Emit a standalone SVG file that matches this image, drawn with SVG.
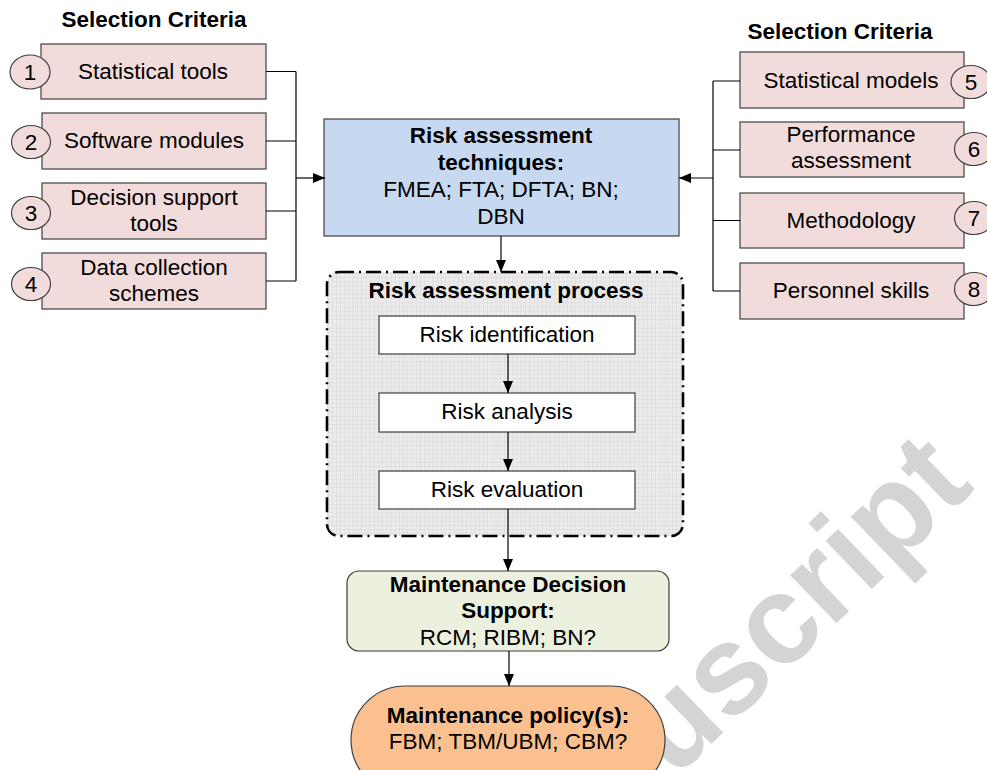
<svg xmlns="http://www.w3.org/2000/svg" width="987" height="770" viewBox="0 0 987 770">
<defs>
<style>
text{font-family:"Liberation Sans",Arial,sans-serif;font-size:22.5px;fill:#000;text-anchor:middle}
.b{font-weight:bold}
.crit{fill:#f2dcdb;stroke:#3f3f3f;stroke-width:1.2}
.num{fill:#f2dcdb;stroke:#3f3f3f;stroke-width:1.2}
.wbox{fill:#fff;stroke:#3f3f3f;stroke-width:1.2}
.ln{fill:none;stroke:#000;stroke-width:1.2}
.arr{fill:none;stroke:#000;stroke-width:1.2;marker-end:url(#ah)}
.wm{font-family:"Liberation Sans",Arial,sans-serif;font-weight:bold;font-size:126px;fill:#d4d4d4;text-anchor:start}
</style>
<marker id="ah" viewBox="0 0 12 10" refX="12" refY="5" markerWidth="12" markerHeight="10" markerUnits="userSpaceOnUse" orient="auto">
<path d="M0,0 L12,5 L0,10 Z" fill="#000"/>
</marker>
<pattern id="grid" width="4.2" height="4.2" patternUnits="userSpaceOnUse">
<rect width="4.2" height="4.2" fill="#ececec"/>
<path d="M0,0.3 H4.2 M0.3,0 V4.2" stroke="#d6d6d6" stroke-width="0.6"/>
</pattern>
</defs>
<rect width="987" height="770" fill="#fff"/>

<text class="wm" transform="translate(674,780) rotate(-44)">uscript</text>

<text class="b" x="154" y="27">Selection Criteria</text>
<text class="b" x="840" y="39">Selection Criteria</text>

<g id="c1"><rect class="crit" x="41" y="44" width="225" height="55"/><ellipse class="num" cx="30" cy="72" rx="20" ry="17"/><text x="30" y="80">1</text><text x="153" y="79">Statistical tools</text></g>
<g id="c2"><rect class="crit" x="42" y="113" width="224" height="56"/><ellipse class="num" cx="31" cy="142" rx="19.5" ry="16.5"/><text x="31" y="150">2</text><text x="154" y="148">Software modules</text></g>
<g id="c3"><rect class="crit" x="42" y="183" width="224" height="56"/><ellipse class="num" cx="31" cy="213" rx="19.5" ry="16.5"/><text x="31" y="221">3</text><text x="154" y="205">Decision support</text><text x="154" y="231">tools</text></g>
<g id="c4"><rect class="crit" x="42" y="253" width="224" height="56"/><ellipse class="num" cx="31" cy="284" rx="19.5" ry="16.5"/><text x="31" y="292">4</text><text x="154" y="275">Data collection</text><text x="154" y="301">schemes</text></g>

<g id="c5"><rect class="crit" x="740" y="52" width="224" height="56"/><ellipse class="num" cx="971" cy="82" rx="20" ry="16.5"/><text x="971" y="90">5</text><text x="851" y="88">Statistical models</text></g>
<g id="c6"><rect class="crit" x="740" y="122" width="224" height="55"/><ellipse class="num" cx="974" cy="149" rx="19.5" ry="16.5"/><text x="974" y="157">6</text><text x="851" y="142">Performance</text><text x="851" y="168">assessment</text></g>
<g id="c7"><rect class="crit" x="740" y="193" width="224" height="55"/><ellipse class="num" cx="974" cy="218" rx="19.5" ry="16.5"/><text x="974" y="226">7</text><text x="851" y="228">Methodology</text></g>
<g id="c8"><rect class="crit" x="740" y="263" width="224" height="56"/><ellipse class="num" cx="974" cy="289" rx="19.5" ry="16.5"/><text x="974" y="297">8</text><text x="851" y="298">Personnel skills</text></g>

<g id="rat"><rect x="324" y="119" width="355" height="117" fill="#c6d9f1" stroke="#3f3f3f" stroke-width="1.2"/>
<text class="b" x="501" y="143">Risk assessment</text><text class="b" x="501" y="170">techniques:</text><text x="501" y="197">FMEA; FTA; DFTA; BN;</text><text x="501" y="224">DBN</text></g>

<g id="process"><rect x="327" y="272" width="356" height="264" rx="12" fill="url(#grid)" stroke="#000" stroke-width="2.6" stroke-dasharray="15 5 2 5"/>
<text class="b" x="506" y="298">Risk assessment process</text></g>
<g id="ident"><rect class="wbox" x="379" y="316" width="256" height="38"/><text x="507" y="342">Risk identification</text></g>
<g id="analysis"><rect class="wbox" x="379" y="393" width="256" height="39"/><text x="507" y="419">Risk analysis</text></g>
<g id="evaluation"><rect class="wbox" x="379" y="471" width="256" height="38"/><text x="507" y="497">Risk evaluation</text></g>

<g id="mds"><rect x="347" y="571" width="322" height="80" rx="12" fill="#ebf1de" stroke="#3f3f3f" stroke-width="1.2"/>
<text class="b" x="508" y="592">Maintenance Decision</text><text class="b" x="508" y="618">Support:</text><text x="508" y="645">RCM; RIBM; BN?</text></g>

<g id="policy"><rect x="351" y="686" width="314" height="108" rx="54" fill="#fac090" stroke="#3f3f3f" stroke-width="1.2"/>
<text class="b" x="508" y="723">Maintenance policy(s):</text><text x="508" y="749">FBM; TBM/UBM; CBM?</text></g>

<g id="connectors">
<path class="ln" d="M266,71.5 H296 M266,141 H296 M266,211 H296 M266,281 H296 M296,71.5 V281"/>
<path class="arr" d="M296,178 H325"/>
<path class="ln" d="M740,81 H713 M740,150 H713 M740,220.5 H713 M740,291 H713 M713,81 V291"/>
<path class="arr" d="M713,178 H679"/>
<path class="arr" d="M501,236 V272"/>
<path class="arr" d="M508,354 V393"/>
<path class="arr" d="M508,432 V471"/>
<path class="arr" d="M508,509 V571"/>
<path class="arr" d="M509,651 V686"/>
</g>
</svg>
